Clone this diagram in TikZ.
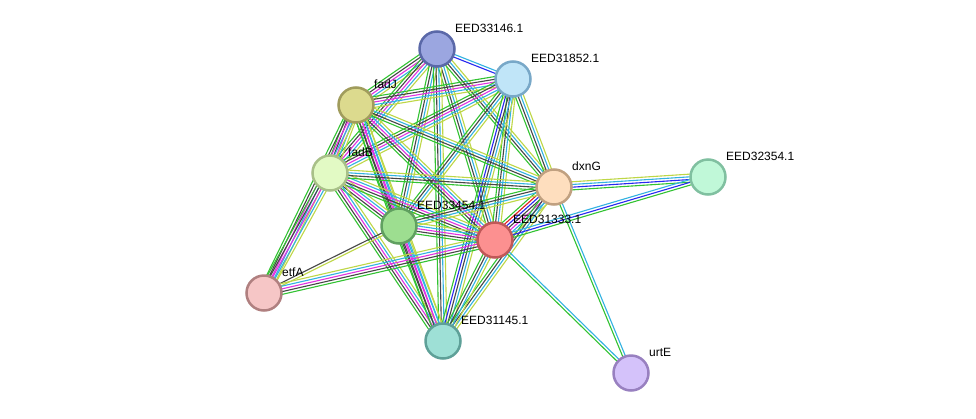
\documentclass[tikz,border=0pt]{standalone}
\usepackage{fontspec}
\setmainfont{Liberation Sans}
\usetikzlibrary{calc}
\pgfdeclarelayer{back}
\pgfdeclarelayer{bg}
\pgfsetlayers{back,bg,main}
% edge colours
\definecolor{eg}{RGB}{50,195,50}
\definecolor{er}{RGB}{225,30,30}
\definecolor{eb}{RGB}{40,40,240}
\definecolor{ek}{RGB}{70,70,70}
\definecolor{em}{RGB}{225,50,225}
\definecolor{ec}{RGB}{50,178,225}
\definecolor{ey}{RGB}{190,215,70}
% node colours
\definecolor{fA}{HTML}{9BA6E0}\definecolor{bA}{HTML}{5A68A8}
\definecolor{fB}{HTML}{C0E5F8}\definecolor{bB}{HTML}{78A8C8}
\definecolor{fJ}{HTML}{DCDA8E}\definecolor{bJ}{HTML}{A09C5C}
\definecolor{fF}{HTML}{E2FAC4}\definecolor{bF}{HTML}{A8C088}
\definecolor{fD}{HTML}{FEDEBE}\definecolor{bD}{HTML}{C0A080}
\definecolor{fX}{HTML}{C0F8D8}\definecolor{bX}{HTML}{80C0A0}
\definecolor{fG}{HTML}{9DDE90}\definecolor{bG}{HTML}{60A060}
\definecolor{fR}{HTML}{FC9090}\definecolor{bR}{HTML}{C05858}
\definecolor{fE}{HTML}{F6C6C6}\definecolor{bE}{HTML}{B08080}
\definecolor{fT}{HTML}{9EE0D6}\definecolor{bT}{HTML}{5EA098}
\definecolor{fU}{HTML}{D4C2FA}\definecolor{bU}{HTML}{9880C0}
\newcommand\sedge[3]{%
  \foreach \ecol [count=\ei] in {#3} {\xdef\ncount{\ei}}%
  \foreach \ecol [count=\ei] in {#3} {%
    \pgfmathsetmacro\myoff{(\ei-(\ncount+1)/2)*2.7}%
    \draw[color=\ecol,line width=1.1pt] ($(#1.center)!\myoff pt!90:(#2.center)$) -- ($(#2.center)!\myoff pt!-90:(#1.center)$);
  }}
\begin{document}
\begin{tikzpicture}[x=1pt,y=-1pt,
  prot/.style={circle,minimum size=35pt,inner sep=0pt,line width=2.5pt},
  lab/.style={anchor=west,font=\fontsize{12}{14}\selectfont,inner sep=0pt}]
\begin{pgfonlayer}{back}
\fill[white] (0,0) rectangle (976,418);
\end{pgfonlayer}
\useasboundingbox (0,0) rectangle (976,418);
\node[prot,fill=fA,draw=bA] (A) at (437,49) {};
\node[prot,fill=fB,draw=bB] (B) at (513,79) {};
\node[prot,fill=fJ,draw=bJ] (J) at (356,105) {};
\node[prot,fill=fF,draw=bF] (F) at (330,173) {};
\node[prot,fill=fD,draw=bD] (D) at (554,187) {};
\node[prot,fill=fX,draw=bX] (X) at (708,177) {};
\node[prot,fill=fG,draw=bG] (G) at (399,226) {};
\node[prot,fill=fR,draw=bR] (R) at (495,240) {};
\node[prot,fill=fE,draw=bE] (E) at (264,293) {};
\node[prot,fill=fT,draw=bT] (T) at (443,341) {};
\node[prot,fill=fU,draw=bU] (U) at (631,373) {};
% labels
\node[lab] (lA) at (455,28) {EED33146.1};
\node[lab] (lB) at (531,58) {EED31852.1};
\node[lab] (lJ) at (374,84) {fadJ};
\node[lab] (lF) at (348,152) {fadB};
\node[lab] (lD) at (572,166) {dxnG};
\node[lab] (lX) at (726,156) {EED32354.1};
\node[lab] (lG) at (417,205) {EED33454.1};
\node[lab] (lR) at (513,219) {EED31333.1};
\node[lab] (lE) at (282,272) {etfA};
\node[lab] (lT) at (461,320) {EED31145.1};
\node[lab] (lU) at (649,352) {urtE};
\begin{pgfonlayer}{bg}
\sedge{A}{B}{eb,ec}
\sedge{A}{J}{eg,ek,em,ec,ey}
\sedge{A}{F}{eg,ek,em,ec,ey}
\sedge{A}{G}{eg,ek,ec,ey}
\sedge{A}{R}{eg,ek,ec,ey}
\sedge{A}{T}{eg,ek,ec,ey}
\sedge{A}{D}{eg,ek,ec,ey}
\sedge{B}{J}{eg,ek,em,ec,ey}
\sedge{B}{F}{eg,ek,em,ec,ey}
\sedge{B}{G}{eg,ek,ec,ey}
\sedge{B}{R}{eg,ek,ec,ey}
\sedge{B}{T}{eg,eb,ek,ec,ey}
\sedge{B}{D}{eg,ek,ec,ey}
\sedge{J}{F}{eg,ek,em,ec,ey}
\sedge{J}{E}{eg,ek,em,ec,ey}
\sedge{J}{G}{eg,ek,em,ec,ey}
\sedge{J}{R}{eg,ek,em,ec,ey}
\sedge{J}{T}{eg,ek,em,ec,ey}
\sedge{J}{D}{eg,ek,ec,ey}
\sedge{F}{E}{eg,ek,em,ec,ey}
\sedge{F}{G}{eg,ek,em,ec,ey}
\sedge{F}{R}{eg,ek,em,ec,ey}
\sedge{F}{T}{eg,ek,em,ec,ey}
\sedge{F}{D}{eg,ek,ec,ey}
\sedge{D}{R}{eg,er,eb,ek,em,ec,ey}
\sedge{D}{G}{eg,ek,ec,ey}
\sedge{D}{T}{eg,ek,ec,ey}
\sedge{D}{X}{eg,eb,ec,ey}
\sedge{R}{X}{eg,eb,ec}
\sedge{D}{U}{eg,ec}
\sedge{R}{U}{eg,ec}
\sedge{G}{R}{eg,ek,em,ec,ey}
\sedge{G}{T}{eg,ek,em,ec,ey}
\sedge{G}{E}{ek,ey}
\sedge{E}{R}{eg,ek,em,ec,ey}
\sedge{R}{T}{eg,ek,ec,ey}
\end{pgfonlayer}
\end{tikzpicture}
\end{document}
